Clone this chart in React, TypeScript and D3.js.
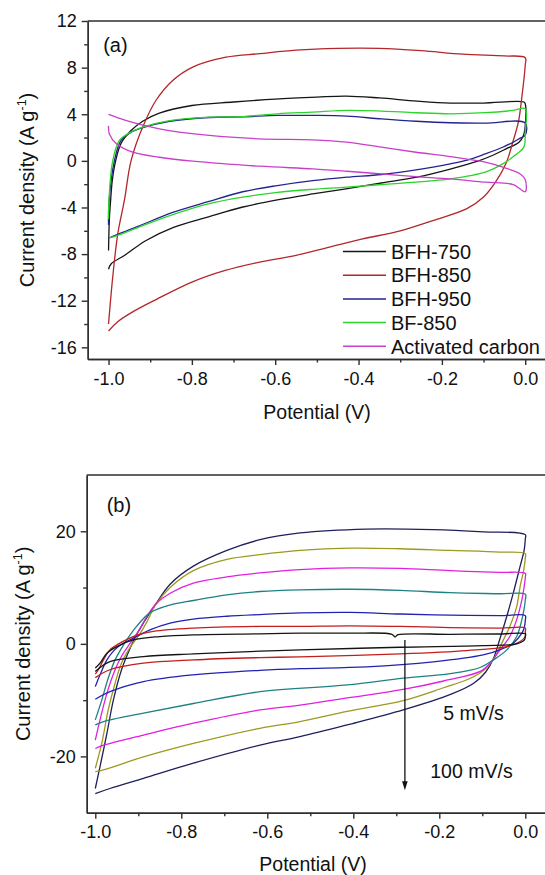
import React, { useRef, useEffect } from "react";
import * as d3 from "d3";

type Pt = [number, number];

const FONT = '"Liberation Sans", Arial, Helvetica, sans-serif';

// ---- panel (a): [potential (V), current density (A/g)], anodic sweep then cathodic sweep
const bfh750: Pt[] = [
  [-1.0, -7.7], [-0.998, -5.0], [-0.995, -3.4], [-0.991, -1.7], [-0.983, 0], [-0.97, 1.5],
  [-0.946, 2.6], [-0.918, 3.4], [-0.878, 4.1], [-0.8, 4.75], [-0.7, 5.05], [-0.6, 5.3],
  [-0.5, 5.47], [-0.43, 5.56], [-0.35, 5.4], [-0.26, 5.13], [-0.18, 4.96], [-0.1, 4.96],
  [-0.003, 5.05], [0.0, 4.9], [0.0, 3.0], [-0.004, 2.2], [-0.015, 1.6], [-0.046, 1.03],
  [-0.079, 0.46], [-0.112, 0], [-0.18, -0.7], [-0.26, -1.4], [-0.345, -1.9], [-0.43, -2.4],
  [-0.51, -2.84], [-0.595, -3.35], [-0.68, -3.98], [-0.76, -4.8], [-0.844, -5.7],
  [-0.911, -6.85], [-0.961, -8.1], [-0.994, -8.85], [-1.0, -9.3],
];
const bfh850: Pt[] = [
  [-1.0, -14.0], [-0.99, -10.0], [-0.978, -6.3], [-0.962, -3.4], [-0.946, 0], [-0.918, 2.9],
  [-0.886, 5.2], [-0.846, 6.9], [-0.798, 8.05], [-0.718, 8.9], [-0.637, 9.2], [-0.55, 9.5],
  [-0.45, 9.65], [-0.35, 9.65], [-0.25, 9.45], [-0.15, 9.15], [-0.05, 9.0], [0.0, 8.85],
  [0.0, 8.2], [-0.008, 5.5], [-0.016, 3.4], [-0.029, 1.7], [-0.046, -0.2], [-0.071, -1.8],
  [-0.1, -3.1], [-0.14, -4.1], [-0.22, -5.1], [-0.3, -6.0], [-0.39, -6.7], [-0.47, -7.4],
  [-0.55, -8.1], [-0.64, -8.7], [-0.72, -9.4], [-0.8, -10.4], [-0.886, -11.9],
  [-0.944, -13.0], [-0.978, -13.8], [-1.0, -14.6],
];
const bfh950: Pt[] = [
  [-1.0, -5.5], [-0.999, -3.6], [-0.986, 0], [-0.97, 1.75], [-0.946, 2.45], [-0.918, 2.85],
  [-0.853, 3.4], [-0.758, 3.72], [-0.678, 3.78], [-0.595, 3.9], [-0.51, 3.9], [-0.428, 3.84],
  [-0.345, 3.6], [-0.262, 3.4], [-0.18, 3.27], [-0.096, 3.24], [0.0, 3.24], [0.0, 2.2],
  [-0.012, 1.95], [-0.029, 1.6], [-0.054, 1.17], [-0.096, 0.6], [-0.137, 0.09], [-0.18, -0.26],
  [-0.262, -0.77], [-0.345, -1.17], [-0.428, -1.4], [-0.51, -1.7], [-0.595, -2.12],
  [-0.678, -2.65], [-0.761, -3.5], [-0.844, -4.4], [-0.928, -5.6], [-0.978, -6.3], [-0.998, -6.6],
];
const bf850: Pt[] = [
  [-1.0, -5.0], [-0.999, -3.4], [-0.99, 0], [-0.974, 1.75], [-0.95, 2.4], [-0.918, 2.9],
  [-0.853, 3.46], [-0.758, 3.75], [-0.678, 3.8], [-0.595, 4.04], [-0.51, 4.18], [-0.428, 4.33],
  [-0.345, 4.27], [-0.262, 4.13], [-0.18, 4.04], [-0.096, 4.13], [-0.029, 4.33], [0.0, 4.47],
  [0.0, 2.5], [-0.003, 1.2], [-0.02, 0.6], [-0.054, -0.26], [-0.096, -0.97], [-0.18, -1.55],
  [-0.262, -1.83], [-0.345, -2.03], [-0.428, -2.26], [-0.51, -2.44], [-0.595, -2.7],
  [-0.678, -3.12], [-0.761, -3.7], [-0.844, -4.6], [-0.928, -5.7], [-0.978, -6.4], [-0.998, -6.6],
];
const activatedCarbon: Pt[] = [
  [-1.0, 3.98], [-0.959, 3.47], [-0.878, 2.75], [-0.758, 2.18], [-0.637, 1.89], [-0.51, 1.8],
  [-0.428, 1.6], [-0.345, 1.17], [-0.262, 0.74], [-0.18, 0.37], [-0.096, -0.11], [-0.054, -0.54],
  [-0.012, -1.12], [0.0, -1.6], [0.0, -2.65], [-0.029, -2.03], [-0.096, -1.83], [-0.18, -1.55],
  [-0.262, -1.35], [-0.345, -1.12], [-0.428, -0.89], [-0.51, -0.69], [-0.637, -0.46],
  [-0.798, -0.03], [-0.878, 0.31], [-0.942, 0.74], [-0.981, 1.46], [-0.998, 2.3], [-1.0, 3.0],
];

const namesA = ["BFH-750", "BFH-850", "BFH-950", "BF-850", "Activated carbon"];
const colorsA = ["#151515", "#b3262a", "#23238f", "#2ad42a", "#c93fc9"];
const curvesA = [bfh750, bfh850, bfh950, bf850, activatedCarbon];

// ---- panel (b): one sample at scan rates 100 -> 5 mV/s (outer to inner)
const rate100: Pt[] = [
  [-1.0, -25.7], [-0.989, -21.8], [-0.973, -15.9], [-0.958, -10.0], [-0.939, -4.6], [-0.922, -1.3],
  [-0.905, 1.5], [-0.888, 3.7], [-0.86, 7.0], [-0.826, 10.6], [-0.772, 13.8], [-0.694, 16.6],
  [-0.617, 18.5], [-0.524, 19.7], [-0.37, 20.4], [-0.214, 20.3], [-0.097, 19.9], [0.0, 19.4],
  [0.0, 18.6], [-0.003, 16.5], [-0.012, 13.8], [-0.028, 9.0], [-0.043, 4.9], [-0.059, 0.9],
  [-0.074, -2.6], [-0.092, -5.0], [-0.12, -7.0], [-0.171, -8.9], [-0.284, -11.75], [-0.414, -14.4],
  [-0.524, -16.5], [-0.617, -18.0], [-0.772, -21.2], [-0.888, -23.9], [-0.966, -25.7], [-1.0, -26.6],
];
const rate80: Pt[] = [
  [-1.0, -22.1], [-0.985, -17.7], [-0.97, -11.75], [-0.954, -7.0], [-0.939, -3.4], [-0.918, -0.5],
  [-0.896, 1.8], [-0.88, 3.9], [-0.86, 6.9], [-0.826, 10.0], [-0.772, 13.0], [-0.694, 15.0],
  [-0.617, 15.85], [-0.524, 16.6], [-0.408, 17.0], [-0.291, 16.9], [-0.175, 16.6], [-0.059, 16.3],
  [0.0, 16.0], [0.0, 15.2], [-0.004, 13.0], [-0.012, 10.2], [-0.02, 6.6], [-0.036, 3.1],
  [-0.051, 0.7], [-0.072, -2.5], [-0.095, -4.6], [-0.13, -6.2], [-0.19, -7.8], [-0.284, -10.1],
  [-0.414, -12.0], [-0.524, -13.8], [-0.617, -15.0], [-0.772, -17.7], [-0.888, -20.1],
  [-0.981, -22.4], [-1.0, -22.7],
];
const rate50: Pt[] = [
  [-1.0, -17.1], [-0.989, -13.5], [-0.973, -8.8], [-0.954, -4.6], [-0.939, -2.2], [-0.918, 0.2],
  [-0.9, 2.2], [-0.88, 4.9], [-0.857, 7.25], [-0.826, 9.0], [-0.772, 10.8], [-0.694, 11.9],
  [-0.617, 12.6], [-0.524, 13.2], [-0.408, 13.5], [-0.291, 13.4], [-0.175, 13.0], [-0.059, 12.7],
  [0.0, 12.5], [0.0, 11.8], [-0.003, 10.0], [-0.008, 7.8], [-0.02, 4.3], [-0.036, 1.3],
  [-0.059, -1.07], [-0.08, -3.3], [-0.105, -4.9], [-0.19, -6.6], [-0.284, -8.1], [-0.414, -9.6],
  [-0.524, -10.9], [-0.617, -11.75], [-0.772, -14.1], [-0.888, -16.2], [-0.981, -18.0], [-1.0, -18.6],
];
const rate30: Pt[] = [
  [-1.0, -13.5], [-0.985, -10.0], [-0.97, -6.1], [-0.954, -2.85], [-0.943, -1.3], [-0.927, 0.7],
  [-0.904, 3.1], [-0.873, 5.5], [-0.826, 6.9], [-0.772, 7.7], [-0.694, 8.7], [-0.617, 9.3],
  [-0.524, 9.6], [-0.408, 9.7], [-0.291, 9.5], [-0.175, 9.1], [-0.059, 8.9], [0.0, 8.8],
  [0.0, 7.8], [-0.008, 4.3], [-0.02, 1.3], [-0.043, -1.07], [-0.074, -2.85], [-0.105, -4.2],
  [-0.175, -5.3], [-0.284, -6.1], [-0.414, -7.3], [-0.617, -8.5], [-0.772, -10.6],
  [-0.888, -12.3], [-0.981, -13.8], [-1.0, -14.4],
];
const rate20: Pt[] = [
  [-1.0, -7.6], [-0.989, -5.5], [-0.973, -2.85], [-0.958, -1.3], [-0.947, -0.5], [-0.927, 0.4],
  [-0.904, 1.3], [-0.873, 2.5], [-0.826, 3.7], [-0.772, 4.4], [-0.694, 4.9], [-0.617, 5.2],
  [-0.524, 5.5], [-0.408, 5.6], [-0.291, 5.3], [-0.175, 5.1], [-0.059, 5.0], [0.0, 5.0],
  [0.0, 4.2], [-0.002, 3.0], [-0.008, 1.9], [-0.028, 0.12], [-0.059, -1.07], [-0.098, -1.96],
  [-0.214, -3.2], [-0.369, -4.1], [-0.524, -4.4], [-0.617, -4.7], [-0.772, -5.5], [-0.888, -6.7],
  [-0.966, -8.5], [-1.0, -9.85],
];
const rate10: Pt[] = [
  [-1.0, -5.4], [-0.993, -4.6], [-0.981, -2.85], [-0.966, -1.07], [-0.943, 0.12], [-0.912, 1.3],
  [-0.865, 2.2], [-0.772, 2.8], [-0.617, 3.1], [-0.524, 3.1], [-0.408, 3.2], [-0.291, 3.1],
  [-0.175, 2.9], [-0.059, 2.8], [0.0, 2.8], [0.0, 2.2], [0.0, 1.3], [-0.012, 0.41],
  [-0.043, -0.48], [-0.136, -1.19], [-0.291, -1.78], [-0.524, -2.3], [-0.617, -2.45],
  [-0.772, -2.85], [-0.888, -3.44], [-0.966, -4.6], [-1.0, -6.0],
];
const rate5: Pt[] = [
  [-1.0, -4.3], [-0.989, -3.44], [-0.973, -1.66], [-0.95, -0.48], [-0.912, 0.7], [-0.85, 1.3],
  [-0.772, 1.6], [-0.617, 1.78], [-0.524, 1.9], [-0.408, 1.9], [-0.31, 1.7], [-0.303, 1.25],
  [-0.296, 1.62], [-0.175, 1.7], [-0.059, 1.75], [0.0, 1.78], [0.0, 1.3], [-0.002, 0.7],
  [-0.02, 0.0], [-0.098, -0.3], [-0.291, -0.6], [-0.524, -1.07], [-0.617, -1.3], [-0.772, -1.78],
  [-0.888, -2.26], [-0.966, -3.15], [-1.0, -4.9],
];

const colorsB = ["#1f1f5c", "#9c9a1e", "#e11fe1", "#1e8282", "#2222b0", "#c21e1e", "#141414"];
const curvesB = [rate100, rate80, rate50, rate30, rate20, rate10, rate5];

// arrow: potential, top current, bottom current
const arrowB = { x: -0.28, y0: 0.7, y1: -26 };
const rateLabels = [
  { text: "5 mV/s", x: -0.191, y: -12.3 },
  { text: "100 mV/s", x: -0.221, y: -22.6 },
];

const xMajor = [-1.0, -0.8, -0.6, -0.4, -0.2, 0.0];
const xMinor = [-0.9, -0.7, -0.5, -0.3, -0.1];
const yMajorA = [-16, -12, -8, -4, 0, 4, 8, 12];
const yMinorA = [-14, -10, -6, -2, 2, 6, 10];
const yMajorB = [-20, 0, 20];
const yMinorB = [-10, 10];

const AXIS = "#2e2e2e";

function drawPanel(svg, p) {
  const g = svg.append("g");
  const x = d3.scaleLinear().domain(p.xDomain).range([p.left, p.right]);
  const y = d3.scaleLinear().domain(p.yDomain).range([p.bottom, p.top]);

  const line = d3
    .line<Pt>()
    .x((d) => x(d[0]))
    .y((d) => y(d[1]))
    .curve(d3.curveCatmullRom.alpha(0.5));

  p.curves.forEach((c, i) => {
    g.append("path")
      .attr("d", line(c))
      .attr("fill", "none")
      .attr("stroke", p.colors[i])
      .attr("stroke-width", 1.3)
      .attr("stroke-linejoin", "round");
  });

  const style = (sel) => {
    sel.attr("font-size", 18).attr("font-family", FONT);
    sel.selectAll("path, line").attr("stroke", AXIS).attr("stroke-width", 1.4);
    sel.selectAll("text").attr("fill", "#111");
  };

  g.append("g")
    .attr("transform", `translate(0,${p.bottom})`)
    .call(
      d3.axisBottom(x).tickValues(xMajor).tickSize(6).tickSizeOuter(0).tickPadding(7)
        .tickFormat((d) => (+d).toFixed(1))
    )
    .call(style);
  g.append("g")
    .attr("transform", `translate(0,${p.bottom})`)
    .call(d3.axisBottom(x).tickValues(xMinor).tickSize(3.5).tickSizeOuter(0).tickFormat(() => ""))
    .call(style);

  g.append("g")
    .attr("transform", `translate(${p.left},0)`)
    .call(
      d3.axisLeft(y).tickValues(p.yMajor).tickSize(6).tickSizeOuter(0).tickPadding(5)
        .tickFormat((d) => String(d))
    )
    .call(style);
  g.append("g")
    .attr("transform", `translate(${p.left},0)`)
    .call(d3.axisLeft(y).tickValues(p.yMinor).tickSize(3.5).tickSizeOuter(0).tickFormat(() => ""))
    .call(style);

  g.append("line")
    .attr("x1", p.left)
    .attr("x2", p.right)
    .attr("y1", p.top)
    .attr("y2", p.top)
    .attr("stroke", AXIS)
    .attr("stroke-width", 1.4);

  g.append("text")
    .attr("x", p.left + p.tagDx)
    .attr("y", p.top + p.tagDy)
    .attr("font-size", 20)
    .attr("font-family", FONT)
    .attr("fill", "#111")
    .text(p.tag);

  g.append("text")
    .attr("x", p.xTitleX)
    .attr("y", p.xTitleY)
    .attr("text-anchor", "middle")
    .attr("font-size", 19.5)
    .attr("font-family", FONT)
    .attr("fill", "#111")
    .text("Potential (V)");

  const yt = g
    .append("text")
    .attr("transform", `translate(${p.yTitleX},${(p.top + p.bottom) / 2}) rotate(-90)`)
    .attr("text-anchor", "middle")
    .attr("dy", "0.36em")
    .attr("font-size", 20)
    .attr("font-family", FONT)
    .attr("fill", "#111");
  yt.append("tspan").text("Current density (A g");
  yt.append("tspan").attr("font-size", 12.5).attr("dy", -8).text("-1");
  yt.append("tspan").attr("font-size", 20).attr("dy", 8).text(")");

  return { g, x, y };
}

export default function App() {
  const ref = useRef(null);

  useEffect(() => {
    const svg = d3.select(ref.current);
    svg.selectAll("*").remove();

    const a = drawPanel(svg, {
      xDomain: [-1.05, 0.1],
      yDomain: [-17, 12],
      left: 87.7,
      right: 566.9,
      top: 21,
      bottom: 359,
      curves: curvesA,
      colors: colorsA,
      yMajor: yMajorA,
      yMinor: yMinorA,
      tag: "(a)",
      tagDx: 15.5,
      tagDy: 31,
      xTitleX: 317,
      xTitleY: 419,
      yTitleX: 27,
    });

    // legend
    const leg = a.g.append("g").attr("font-family", FONT).attr("font-size", 20);
    namesA.forEach((n, i) => {
      const yy = 251.5 + i * 23.7;
      leg.append("line")
        .attr("x1", 343).attr("x2", 386).attr("y1", yy).attr("y2", yy)
        .attr("stroke", colorsA[i]).attr("stroke-width", 1.5);
      leg.append("text").attr("x", 391).attr("y", yy).attr("dy", "0.36em")
        .attr("fill", "#111").text(n);
    });

    const b = drawPanel(svg, {
      xDomain: [-1.02, 0.1],
      yDomain: [-30, 30],
      left: 86.7,
      right: 568.3,
      top: 475,
      bottom: 812.7,
      curves: curvesB,
      colors: colorsB,
      yMajor: yMajorB,
      yMinor: yMinorB,
      tag: "(b)",
      tagDx: 20,
      tagDy: 37,
      xTitleX: 313,
      xTitleY: 871,
      yTitleX: 23,
    });

    const ax = b.x(arrowB.x);
    b.g.append("line")
      .attr("x1", ax).attr("x2", ax)
      .attr("y1", b.y(arrowB.y0)).attr("y2", b.y(arrowB.y1) - 8)
      .attr("stroke", "#111").attr("stroke-width", 1.3);
    const tip = b.y(arrowB.y1);
    b.g.append("path")
      .attr("d", `M${ax - 2.8},${tip - 9} L${ax + 2.8},${tip - 9} L${ax},${tip} Z`)
      .attr("fill", "#111");

    rateLabels.forEach((l) => {
      b.g.append("text")
        .attr("x", b.x(l.x)).attr("y", b.y(l.y)).attr("dy", "0.36em")
        .attr("font-size", 19.5).attr("font-family", FONT).attr("fill", "#111")
        .text(l.text);
    });
  }, []);

  return (
    <svg
      ref={ref}
      width={545}
      height={875}
      style={{ position: "absolute", left: 0, top: 0, background: "#fff" }}
    />
  );
}
